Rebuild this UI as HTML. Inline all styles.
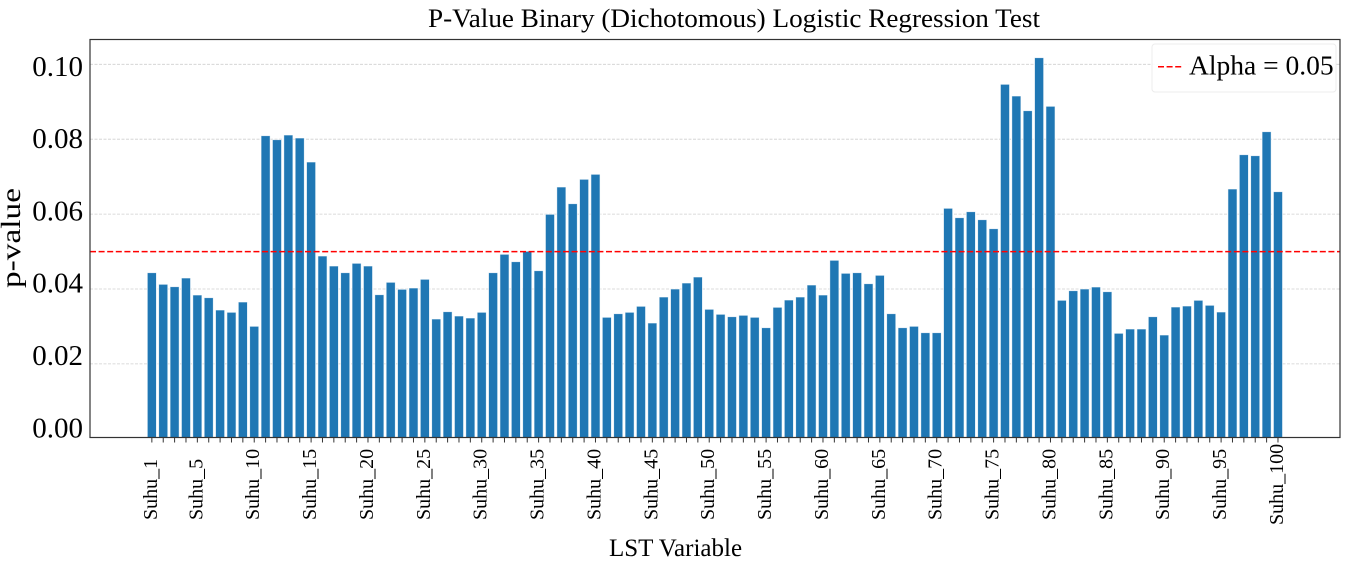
<!DOCTYPE html>
<html>
<head>
<meta charset="utf-8">
<style>
html,body{margin:0;padding:0;background:#fff;}
svg{display:block;}
text{font-family:"Liberation Serif","Times New Roman",serif;fill:#000;}
</style>
</head>
<body>
<svg width="1347" height="565" viewBox="0 0 1347 565" xmlns="http://www.w3.org/2000/svg">
<rect x="0" y="0" width="1347" height="565" fill="#fff"/>
<text x="734" y="27" font-size="26.5" text-anchor="middle" textLength="612" lengthAdjust="spacingAndGlyphs">P-Value Binary (Dichotomous) Logistic Regression Test</text>
<g stroke="#cfcfcf" stroke-width="0.8" stroke-dasharray="3,1.5">
<line x1="90" y1="64.3" x2="1340" y2="64.3"/>
<line x1="90" y1="139.2" x2="1340" y2="139.2"/>
<line x1="90" y1="214.1" x2="1340" y2="214.1"/>
<line x1="90" y1="289.0" x2="1340" y2="289.0"/>
<line x1="90" y1="363.9" x2="1340" y2="363.9"/>
</g>
<g fill="#1f77b4" stroke="#ffffff" stroke-width="0.8" stroke-opacity="0.75">
<rect x="147.30" y="272.7" width="9.1" height="165.3"/>
<rect x="158.68" y="284.3" width="9.1" height="153.7"/>
<rect x="170.05" y="286.7" width="9.1" height="151.3"/>
<rect x="181.43" y="278" width="9.1" height="160"/>
<rect x="192.80" y="295" width="9.1" height="143"/>
<rect x="204.18" y="297.7" width="9.1" height="140.3"/>
<rect x="215.55" y="310" width="9.1" height="128"/>
<rect x="226.93" y="312.3" width="9.1" height="125.7"/>
<rect x="238.30" y="302" width="9.1" height="136"/>
<rect x="249.68" y="326.3" width="9.1" height="111.7"/>
<rect x="261.05" y="135.7" width="9.1" height="302.3"/>
<rect x="272.43" y="139.7" width="9.1" height="298.3"/>
<rect x="283.80" y="135" width="9.1" height="303"/>
<rect x="295.18" y="138" width="9.1" height="300"/>
<rect x="306.55" y="162" width="9.1" height="276"/>
<rect x="317.93" y="256" width="9.1" height="182"/>
<rect x="329.30" y="266" width="9.1" height="172"/>
<rect x="340.68" y="272.7" width="9.1" height="165.3"/>
<rect x="352.05" y="263.3" width="9.1" height="174.7"/>
<rect x="363.43" y="266" width="9.1" height="172"/>
<rect x="374.80" y="294.7" width="9.1" height="143.3"/>
<rect x="386.18" y="282.3" width="9.1" height="155.7"/>
<rect x="397.55" y="289.3" width="9.1" height="148.7"/>
<rect x="408.93" y="288" width="9.1" height="150"/>
<rect x="420.30" y="279.3" width="9.1" height="158.7"/>
<rect x="431.68" y="319" width="9.1" height="119"/>
<rect x="443.05" y="311.7" width="9.1" height="126.3"/>
<rect x="454.43" y="316" width="9.1" height="122"/>
<rect x="465.80" y="318" width="9.1" height="120"/>
<rect x="477.18" y="312.3" width="9.1" height="125.7"/>
<rect x="488.55" y="272.7" width="9.1" height="165.3"/>
<rect x="499.93" y="254.3" width="9.1" height="183.7"/>
<rect x="511.30" y="261.7" width="9.1" height="176.3"/>
<rect x="522.68" y="251.3" width="9.1" height="186.7"/>
<rect x="534.05" y="270.7" width="9.1" height="167.3"/>
<rect x="545.43" y="214.3" width="9.1" height="223.7"/>
<rect x="556.80" y="187" width="9.1" height="251"/>
<rect x="568.18" y="203.7" width="9.1" height="234.3"/>
<rect x="579.55" y="179.3" width="9.1" height="258.7"/>
<rect x="590.93" y="174.3" width="9.1" height="263.7"/>
<rect x="602.30" y="317.3" width="9.1" height="120.7"/>
<rect x="613.68" y="313.7" width="9.1" height="124.3"/>
<rect x="625.05" y="312.3" width="9.1" height="125.7"/>
<rect x="636.43" y="306.3" width="9.1" height="131.7"/>
<rect x="647.80" y="323" width="9.1" height="115"/>
<rect x="659.18" y="297" width="9.1" height="141"/>
<rect x="670.55" y="289" width="9.1" height="149"/>
<rect x="681.93" y="283" width="9.1" height="155"/>
<rect x="693.30" y="277" width="9.1" height="161"/>
<rect x="704.68" y="309.3" width="9.1" height="128.7"/>
<rect x="716.05" y="314.3" width="9.1" height="123.7"/>
<rect x="727.43" y="316.7" width="9.1" height="121.3"/>
<rect x="738.80" y="315.3" width="9.1" height="122.7"/>
<rect x="750.18" y="317.3" width="9.1" height="120.7"/>
<rect x="761.55" y="327.7" width="9.1" height="110.3"/>
<rect x="772.93" y="307.3" width="9.1" height="130.7"/>
<rect x="784.30" y="300" width="9.1" height="138"/>
<rect x="795.68" y="297" width="9.1" height="141"/>
<rect x="807.05" y="285" width="9.1" height="153"/>
<rect x="818.43" y="295" width="9.1" height="143"/>
<rect x="829.80" y="260.3" width="9.1" height="177.7"/>
<rect x="841.18" y="273.3" width="9.1" height="164.7"/>
<rect x="852.55" y="272.7" width="9.1" height="165.3"/>
<rect x="863.93" y="283.7" width="9.1" height="154.3"/>
<rect x="875.30" y="275.3" width="9.1" height="162.7"/>
<rect x="886.68" y="313.7" width="9.1" height="124.3"/>
<rect x="898.05" y="327.7" width="9.1" height="110.3"/>
<rect x="909.43" y="326.3" width="9.1" height="111.7"/>
<rect x="920.80" y="332.7" width="9.1" height="105.3"/>
<rect x="932.18" y="332.7" width="9.1" height="105.3"/>
<rect x="943.55" y="208.3" width="9.1" height="229.7"/>
<rect x="954.93" y="217.7" width="9.1" height="220.3"/>
<rect x="966.30" y="211.7" width="9.1" height="226.3"/>
<rect x="977.68" y="219.7" width="9.1" height="218.3"/>
<rect x="989.05" y="228.7" width="9.1" height="209.3"/>
<rect x="1000.43" y="84.3" width="9.1" height="353.7"/>
<rect x="1011.80" y="96" width="9.1" height="342"/>
<rect x="1023.18" y="110.7" width="9.1" height="327.3"/>
<rect x="1034.55" y="57.7" width="9.1" height="380.3"/>
<rect x="1045.93" y="106.3" width="9.1" height="331.7"/>
<rect x="1057.30" y="300.3" width="9.1" height="137.7"/>
<rect x="1068.68" y="290.7" width="9.1" height="147.3"/>
<rect x="1080.05" y="289" width="9.1" height="149"/>
<rect x="1091.43" y="287" width="9.1" height="151"/>
<rect x="1102.80" y="291.7" width="9.1" height="146.3"/>
<rect x="1114.18" y="333.3" width="9.1" height="104.7"/>
<rect x="1125.55" y="329" width="9.1" height="109"/>
<rect x="1136.93" y="329" width="9.1" height="109"/>
<rect x="1148.30" y="316.7" width="9.1" height="121.3"/>
<rect x="1159.68" y="335" width="9.1" height="103"/>
<rect x="1171.05" y="307" width="9.1" height="131"/>
<rect x="1182.43" y="306" width="9.1" height="132"/>
<rect x="1193.80" y="300.3" width="9.1" height="137.7"/>
<rect x="1205.18" y="305.3" width="9.1" height="132.7"/>
<rect x="1216.55" y="312" width="9.1" height="126"/>
<rect x="1227.93" y="189" width="9.1" height="249"/>
<rect x="1239.30" y="154.7" width="9.1" height="283.3"/>
<rect x="1250.68" y="155.7" width="9.1" height="282.3"/>
<rect x="1262.05" y="131.7" width="9.1" height="306.3"/>
<rect x="1273.43" y="191.7" width="9.1" height="246.3"/>
</g>
<line x1="90" y1="251.6" x2="1340" y2="251.6" stroke="#ff0000" stroke-width="1.5" stroke-dasharray="6,2.6"/>
<rect x="1152" y="44" width="184" height="48" rx="3" ry="3" fill="#fff" fill-opacity="0.9" stroke="#ececec" stroke-width="1"/>
<line x1="1158" y1="66.7" x2="1183" y2="66.7" stroke="#ff0000" stroke-width="1.5" stroke-dasharray="6,2.6"/>
<text x="1189" y="74.5" font-size="27.5">Alpha = 0.05</text>
<rect x="90" y="39.5" width="1250" height="398" fill="none" stroke="#333" stroke-width="1.2"/>
<path stroke="#333" stroke-width="1" fill="none" d="M151.85 438v4.5M163.23 438v4.5M174.6 438v4.5M185.98 438v4.5M197.35 438v4.5M208.73 438v4.5M220.1 438v4.5M231.48 438v4.5M242.85 438v4.5M254.23 438v4.5M265.6 438v4.5M276.98 438v4.5M288.35 438v4.5M299.73 438v4.5M311.1 438v4.5M322.48 438v4.5M333.85 438v4.5M345.23 438v4.5M356.6 438v4.5M367.98 438v4.5M379.35 438v4.5M390.73 438v4.5M402.1 438v4.5M413.48 438v4.5M424.85 438v4.5M436.23 438v4.5M447.6 438v4.5M458.98 438v4.5M470.35 438v4.5M481.73 438v4.5M493.1 438v4.5M504.48 438v4.5M515.85 438v4.5M527.23 438v4.5M538.6 438v4.5M549.98 438v4.5M561.35 438v4.5M572.73 438v4.5M584.1 438v4.5M595.48 438v4.5M606.85 438v4.5M618.23 438v4.5M629.6 438v4.5M640.98 438v4.5M652.35 438v4.5M663.73 438v4.5M675.1 438v4.5M686.48 438v4.5M697.85 438v4.5M709.23 438v4.5M720.6 438v4.5M731.98 438v4.5M743.35 438v4.5M754.73 438v4.5M766.1 438v4.5M777.48 438v4.5M788.85 438v4.5M800.23 438v4.5M811.6 438v4.5M822.98 438v4.5M834.35 438v4.5M845.73 438v4.5M857.1 438v4.5M868.48 438v4.5M879.85 438v4.5M891.23 438v4.5M902.6 438v4.5M913.98 438v4.5M925.35 438v4.5M936.73 438v4.5M948.1 438v4.5M959.48 438v4.5M970.85 438v4.5M982.23 438v4.5M993.6 438v4.5M1004.98 438v4.5M1016.35 438v4.5M1027.73 438v4.5M1039.1 438v4.5M1050.48 438v4.5M1061.85 438v4.5M1073.23 438v4.5M1084.6 438v4.5M1095.98 438v4.5M1107.35 438v4.5M1118.73 438v4.5M1130.1 438v4.5M1141.48 438v4.5M1152.85 438v4.5M1164.23 438v4.5M1175.6 438v4.5M1186.98 438v4.5M1198.35 438v4.5M1209.73 438v4.5M1221.1 438v4.5M1232.48 438v4.5M1243.85 438v4.5M1255.23 438v4.5M1266.6 438v4.5M1277.98 438v4.5"/>
<g font-size="20">
<text transform="translate(156.85,520) rotate(-90)">Suhu_1</text>
<text transform="translate(202.35,520) rotate(-90)">Suhu_5</text>
<text transform="translate(259.23,520) rotate(-90)">Suhu_10</text>
<text transform="translate(316.1,520) rotate(-90)">Suhu_15</text>
<text transform="translate(372.98,520) rotate(-90)">Suhu_20</text>
<text transform="translate(429.85,520) rotate(-90)">Suhu_25</text>
<text transform="translate(486.73,520) rotate(-90)">Suhu_30</text>
<text transform="translate(543.6,520) rotate(-90)">Suhu_35</text>
<text transform="translate(600.48,520) rotate(-90)">Suhu_40</text>
<text transform="translate(657.35,520) rotate(-90)">Suhu_45</text>
<text transform="translate(714.23,520) rotate(-90)">Suhu_50</text>
<text transform="translate(771.1,520) rotate(-90)">Suhu_55</text>
<text transform="translate(827.98,520) rotate(-90)">Suhu_60</text>
<text transform="translate(884.85,520) rotate(-90)">Suhu_65</text>
<text transform="translate(941.73,520) rotate(-90)">Suhu_70</text>
<text transform="translate(998.6,520) rotate(-90)">Suhu_75</text>
<text transform="translate(1055.48,520) rotate(-90)">Suhu_80</text>
<text transform="translate(1112.35,520) rotate(-90)">Suhu_85</text>
<text transform="translate(1169.23,520) rotate(-90)">Suhu_90</text>
<text transform="translate(1226.1,520) rotate(-90)">Suhu_95</text>
<text transform="translate(1282.98,525) rotate(-90)">Suhu_100</text>
</g>
<g font-size="29" text-anchor="end">
<text x="83" y="437.3">0.00</text>
<text x="83" y="365">0.02</text>
<text x="83" y="292.7">0.04</text>
<text x="83" y="220.4">0.06</text>
<text x="83" y="148.1">0.08</text>
<text x="83" y="75.8">0.10</text>
</g>
<text transform="translate(20,288) rotate(-90)" font-size="27" textLength="100" lengthAdjust="spacingAndGlyphs">p-value</text>
<text x="675.5" y="556" font-size="25" text-anchor="middle">LST Variable</text>
</svg>
</body>
</html>
